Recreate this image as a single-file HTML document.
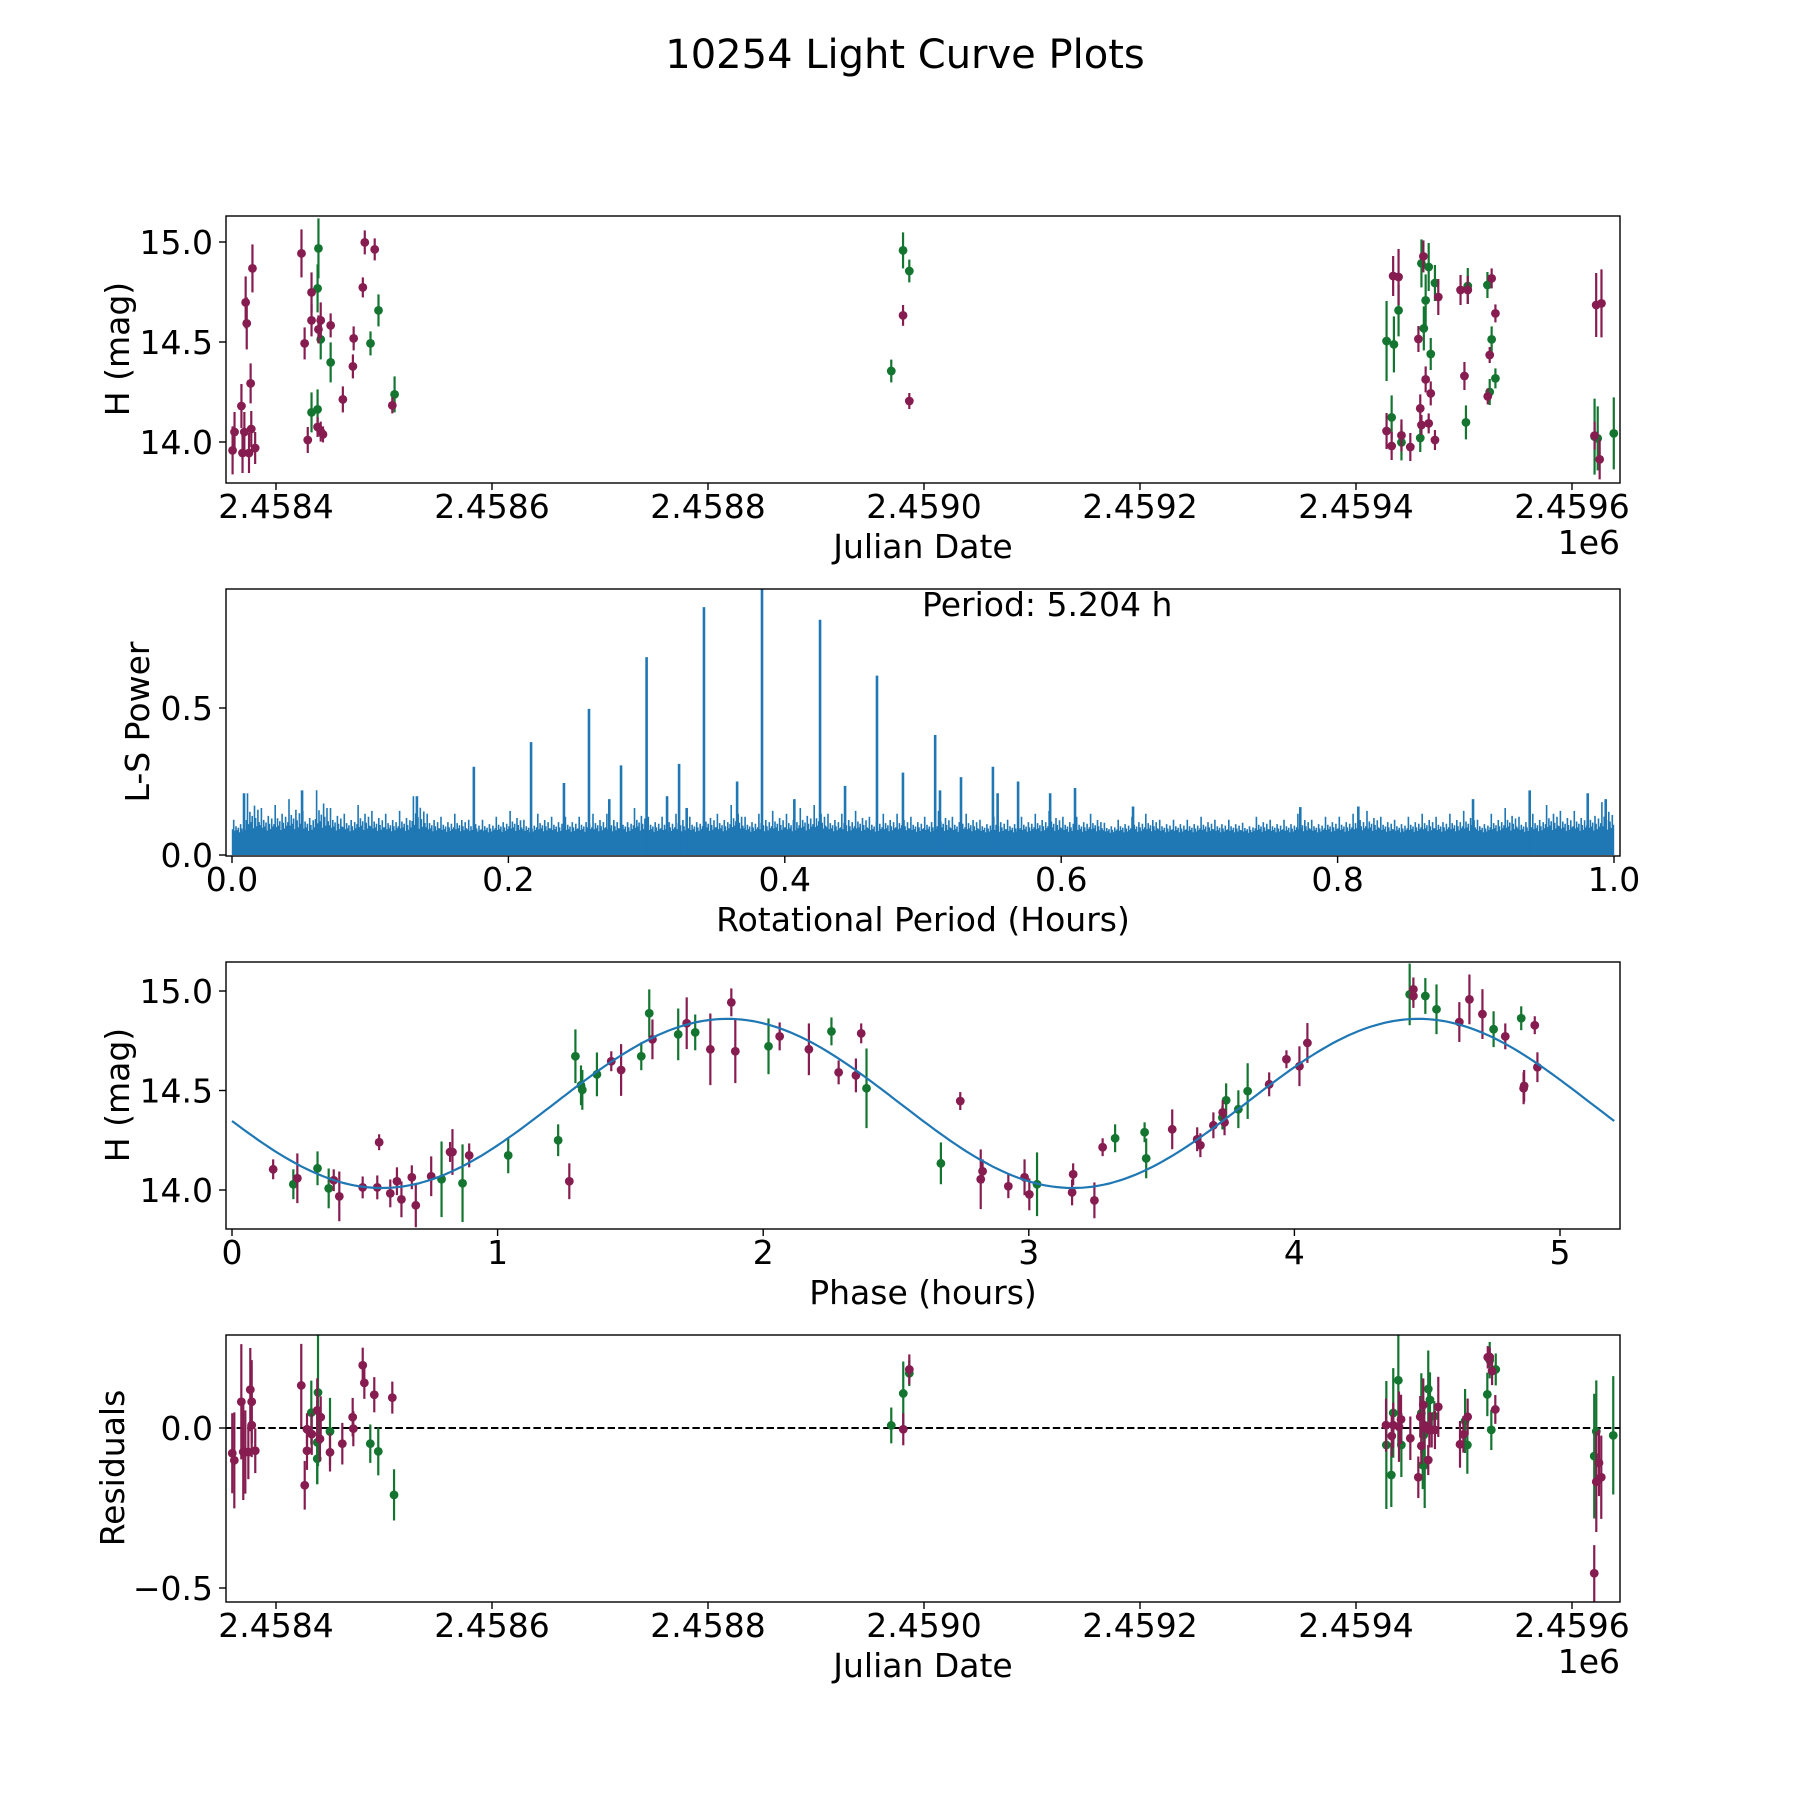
<!DOCTYPE html>
<html><head><meta charset="utf-8"><style>
html,body{margin:0;padding:0;background:#fff;}
svg text{font-family:"DejaVu Sans","Liberation Sans",sans-serif;fill:#000;}
</style></head><body>
<svg id="fig" width="1800" height="1800" viewBox="0 0 1800 1800" xmlns="http://www.w3.org/2000/svg">
<rect width="1800" height="1800" fill="#fff"/>
<text x="905" y="68" font-size="40" text-anchor="middle">10254 Light Curve Plots</text>
<defs>
<clipPath id="c1"><rect x="226" y="216" width="1394" height="267"/></clipPath>
<clipPath id="c2"><rect x="226" y="589" width="1394" height="267"/></clipPath>
<clipPath id="c3"><rect x="226" y="962" width="1394" height="267"/></clipPath>
<clipPath id="c4"><rect x="226" y="1335" width="1394" height="267"/></clipPath>
</defs>
<g id="g1" clip-path="url(#c1)"></g>
<g id="g2" clip-path="url(#c2)"></g>
<g id="g3" clip-path="url(#c3)"></g>
<g id="g4" clip-path="url(#c4)"></g>
<g id="axes"></g>
</svg>
<script>
// ---------- data ----------
// Julian dates are stored as days after JD 2458400
const lcMaroon = [[-40.2,13.958,.12],[-38.4,14.05,.1],[-32.0,14.18,.11],[-31.0,13.945,.1],[-29.3,14.05,.1],[-28.1,14.698,.13],[-27.1,14.593,.13],[-25.0,13.945,.1],[-23.5,14.293,.1],[-22.9,14.065,.09],[-21.8,14.868,.12],[-19.3,13.97,.08],
[23.6,14.943,.12],[26.5,14.493,.08],[29.4,14.01,.065],[32.9,14.748,.1],[32.9,14.608,.08],[39.3,14.563,.07],[41.4,14.608,.09],[38.5,14.075,.05],[41.4,14.052,.05],[43.5,14.038,.04],[50.6,14.583,.06],[61.9,14.213,.065],[71.2,14.378,.06],[71.9,14.518,.06],[80.4,14.773,.05],[82.2,14.998,.06],[91.4,14.963,.055],[107.7,14.183,.04],
[580.6,14.633,.052],[586.4,14.205,.04],
[1028.3,14.055,.09],[1033.0,13.98,.07],[1034.4,14.83,.1],[1039.4,14.825,.14],[1042.1,14.033,.08],[1050.3,13.975,.07],[1057.8,14.515,.065],[1059.5,14.168,.07],[1060.6,14.085,.05],[1062.4,14.928,.08],[1064.5,14.313,.065],[1067.3,14.093,.05],[1069.2,14.243,.06],[1073.1,14.01,.05],[1076.2,14.725,.09],[1096.8,14.76,.075],[1100.4,14.33,.07],[1103.5,14.76,.07],[1122.0,14.228,.04],[1123.8,14.435,.04],[1125.6,14.818,.05],[1129.1,14.643,.045],[1220.9,14.032,.07],[1222.4,14.685,.16],[1227.3,14.693,.17],[1225.6,13.913,.1]];
const lcGreen = [[32.9,14.148,.1],[38.5,14.163,.1],[39.3,14.968,.15],[38.5,14.768,.12],[41.4,14.513,.1],[50.6,14.398,.1],[87.5,14.493,.06],[94.9,14.658,.08],[109.8,14.238,.09],
[580.6,14.958,.09],[586.4,14.855,.057],[569.7,14.355,.057],
[1028.3,14.505,.2],[1035.1,14.488,.14],[1033.0,14.123,.11],[1039.4,14.658,.13],[1042.1,13.998,.09],[1059.5,14.02,.07],[1060.6,14.893,.12],[1062.8,14.568,.11],[1064.5,14.708,.13],[1067.3,14.875,.12],[1069.2,14.44,.08],[1073.1,14.795,.09],[1101.8,14.098,.085],[1103.5,14.78,.09],[1121.7,14.785,.065],[1123.8,14.25,.065],[1125.6,14.513,.065],[1129.1,14.318,.05],[1220.9,14.027,.19],[1223.8,14.018,.16],[1238.7,14.043,.18]];

const peakPeriods = [.0087,.0507,.1338,.175,.2164,.2402,.2583,.273,.2815,.300,.3148,.3235,.329,.3415,.3655,.3835,.4069,.4255,.4436,.4667,.4855,.5088,.5123,.5275,.5506,.554,.5688,.592,.610,.652,.773,.815,.898,.939,.981,.994];
const peakPowers = [.21,.22,.20,.30,.384,.245,.497,.19,.305,.673,.20,.31,.16,.843,.25,.93,.19,.80,.235,.61,.28,.408,.22,.265,.30,.21,.25,.21,.228,.165,.163,.165,.19,.22,.21,.19];
const noiseTop = [.12,.21,.16,.17,.19,.15,.22,.16,.14,.17,
.15,.14,.15,.20,.14,.13,.14,.12,.12,.13,
.15,.12,.14,.13,.13,.13,.14,.14,.13,.16,
.13,.13,.14,.13,.15,.14,.17,.13,.14,.15,
.14,.16,.17,.14,.14,.15,.13,.14,.14,.13,
.13,.15,.13,.14,.12,.13,.12,.13,.14,.15,
.13,.13,.14,.11,.12,.13,.14,.12,.12,.12,
.13,.12,.12,.11,.13,.12,.12,.14,.12,.13,
.13,.14,.15,.13,.12,.13,.14,.13,.14,.15,
.12,.14,.16,.13,.14,.17,.15,.15,.16,.18];
const noiseBase = 0.07;

const phMaroon = [[.155,14.104,.05],[.246,14.059,.125],[.383,14.049,.055],[.404,13.968,.125],[.492,14.013,.055],[.554,14.24,.04],[.547,14.013,.06],[.596,13.983,.07],[.621,14.044,.07],[.638,13.953,.09],[.677,14.064,.06],[.692,13.923,.11],[.750,14.069,.1],[.821,14.191,.05],[.830,14.191,.115],[.893,14.174,.06],[1.27,14.044,.09],[1.428,14.647,.05],[1.465,14.603,.13],[1.583,14.757,.1],[1.712,14.838,.13],[1.801,14.707,.18],[1.88,14.943,.07],[1.895,14.697,.16],[2.062,14.772,.07],[2.172,14.707,.13],[2.284,14.591,.06],[2.349,14.576,.085],[2.369,14.787,.05],
[2.742,14.447,.045],[2.819,14.054,.15],[2.826,14.094,.06],[2.923,14.019,.06],[2.984,14.064,.09],[3.002,13.978,.08],[3.167,14.079,.055],[3.163,13.988,.065],[3.247,13.948,.09],[3.278,14.215,.045],[3.54,14.305,.1],[3.634,14.255,.06],[3.646,14.225,.06],[3.695,14.325,.065],[3.73,14.39,.06],[3.737,14.34,.065],[3.905,14.531,.06],[3.97,14.657,.045],[4.019,14.622,.1],[4.049,14.739,.1],[4.448,15.008,.06],[4.448,14.975,.06],[4.621,14.844,.1],[4.659,14.958,.125],[4.708,14.884,.125],[4.794,14.772,.065],[4.905,14.828,.045],[4.863,14.511,.08],[4.865,14.523,.08],[4.915,14.617,.075]];
const phGreen = [[.231,14.029,.075],[.322,14.109,.085],[.364,14.008,.1],[.789,14.054,.19],[.868,14.034,.195],[1.04,14.174,.09],[1.228,14.25,.08],[1.293,14.672,.135],[1.314,14.526,.1],[1.319,14.503,.1],[1.374,14.581,.11],[1.541,14.672,.07],[1.571,14.888,.12],[1.68,14.782,.13],[1.744,14.792,.09],[2.02,14.722,.14],[2.257,14.797,.07],[2.389,14.511,.2],
[2.669,14.134,.105],[3.031,14.029,.16],[3.325,14.26,.07],[3.436,14.29,.05],[3.442,14.159,.1],[3.729,14.364,.06],[3.743,14.451,.085],[3.789,14.406,.095],[3.824,14.497,.14],[4.434,14.983,.155],[4.493,14.975,.09],[4.535,14.908,.125],[4.75,14.808,.09],[4.854,14.863,.06]];
const fitMean = 14.435, fitAmp = 0.425, fitPeakPhase = 1.865, rotPeriod = 5.204;

const resMaroon = [[-40.5,-0.079,.125],[-38.6,-0.101,.15],[-32.1,0.082,.18],[-30.3,-0.075,.15],[-28.4,-0.075,.13],[-23.8,0.12,.13],[-22.5,0.082,.13],[-22.5,0.009,.1],[-25.6,-0.075,.085],[-19.2,-0.071,.07],[23.4,0.133,.13],[26.6,-0.179,.076],[28.7,-0.004,.05],[28.7,-0.071,.06],[33.1,-0.019,.065],[38.2,0.055,.1],[41.4,0.034,.065],[40.7,-0.034,.07],[50,-0.076,.06],[61.4,-0.049,.065],[71,0.034,.06],[71.6,-0.002,.055],[80.3,0.196,.055],[81.8,0.141,.05],[91,0.104,.055],[107.7,0.095,.05],
[580.8,-0.004,.05],[586.4,0.183,.047],
[1027.8,0.009,.083],[1033.1,-0.025,.065],[1034.5,0.009,.07],[1039.8,0.004,.11],[1041.7,0.027,.077],[1050.3,-0.032,.068],[1057.7,-0.154,.065],[1059.5,0.035,.065],[1060.5,-0.056,.057],[1062.3,0.072,.083],[1063.2,0.009,.06],[1066.9,-0.1,.047],[1067.9,-0.006,.055],[1070.1,-0.006,.055],[1073.1,-0.006,.06],[1076.2,0.066,.094],[1096.3,-0.051,.073],[1099.4,-0.02,.057],[1103.4,0.035,.057],[1122,0.221,.035],[1123.8,0.222,.03],[1126,0.178,.044],[1129,0.058,.045],[1220.6,-0.454,.088],[1222.5,-0.168,.157],[1225,-0.109,.104],[1227.1,-0.154,.13]];
const resGreen = [[32.7,0.048,.1],[38.9,0.111,.23],[38.2,-0.045,.13],[38.2,-0.096,.08],[50,-0.011,.105],[87.3,-0.049,.06],[94.7,-0.073,.075],[109.3,-0.209,.08],
[569.7,0.008,.056],[580.8,0.108,.1],[586.4,0.171,.04],
[1028.1,-0.053,.2],[1032.7,-0.147,.1],[1034.5,0.047,.14],[1039.2,0.149,.2],[1042,-0.053,.1],[1060.5,0.046,.125],[1061.8,-0.116,.075],[1062.7,-0.022,.063],[1063.6,-0.116,.134],[1066.9,0.122,.12],[1068.5,0.088,.086],[1072.5,0.037,.047],[1101,0.022,.1],[1103.1,-0.053,.09],[1121.6,0.105,.068],[1123.8,0.212,.057],[1129.4,0.183,.05],[1125.3,-0.006,.063],[1220.6,-0.088,.195],[1222.5,-0.011,.16],[1238.2,-0.023,.185]];

const jdTickDays = [0,200,400,600,800,1000,1200];
const jdTickLabels = ["2.4584","2.4586","2.4588","2.4590","2.4592","2.4594","2.4596"];
const magTicks = [14.0,14.5,15.0];
const magTickLabels = ["14.0","14.5","15.0"];
const powTicks = [0,0.5];
const powTickLabels = ["0.0","0.5"];
const perTicks = [0,0.2,0.4,0.6,0.8,1.0];
const perTickLabels = ["0.0","0.2","0.4","0.6","0.8","1.0"];
const phTicks = [0,1,2,3,4,5];
const phTickLabels = ["0","1","2","3","4","5"];
const resTicks = [0,-0.5];
const resTickLabels = ["0.0","\u22120.5"];

// ---------- scales ----------
const NS = "http://www.w3.org/2000/svg";
const L = 226, R = 1620;
const AX = [{top:216,bot:483},{top:589,bot:856},{top:962,bot:1229},{top:1335,bot:1602}];
const xJD = d => 276 + d*1.08;
const yMag1 = m => 442 - (m-14)*200;
const xPer = p => 232 + p*1382;
const yPow = v => 855 - v*294;
const xPh = h => 232 + h*265.6;
const yMag3 = m => 1190 - (m-14)*199;
const yRes = r => 1428 - r*320;
const MAROON = "#861c50", GREEN = "#137530", BLUE = "#1f77b4";

function mk(tag, attrs, parent){ const e = document.createElementNS(NS, tag); for (const k in attrs) e.setAttribute(k, attrs[k]); parent.appendChild(e); return e; }

function errPoints(g, data, xs, ys, color, nm){
  data.forEach(p=>{
    const x = xs(p[0]);
    const ln = mk('line',{x1:x,x2:x,y1:ys(p[1]-p[2]),y2:ys(p[1]+p[2]),stroke:color,'stroke-width':2.2},g);
    
    
    const c = mk('circle',{cx:x,cy:ys(p[1]),r:4.4,fill:color},g);
    
    
  });
}

const g1 = document.getElementById('g1'), g2 = document.getElementById('g2'), g3 = document.getElementById('g3'), g4 = document.getElementById('g4');
errPoints(g1, lcGreen, xJD, yMag1, GREEN, 'green-observation');
errPoints(g1, lcMaroon, xJD, yMag1, MAROON, 'maroon-observation');

// periodogram
const base = mk('rect',{x:xPer(0),y:yPow(noiseBase),width:xPer(1)-xPer(0),height:yPow(0)-yPow(noiseBase),fill:BLUE},g2);


let d = "";
const sub = [0.35,1,0.25,0.55,0.3,0.45,0.15,0.7,0.4,0.2,0.6,0.3];
noiseTop.forEach((v,i)=>{
  sub.forEach((f,k)=>{
    const p = i*0.01 + (k+0.5)*0.01/sub.length;
    d += `M${xPer(p).toFixed(1)},${yPow(0)}L${xPer(p).toFixed(1)},${yPow(noiseBase + (v-noiseBase)*f).toFixed(1)}`;
  });
});
const nz = mk('path',{d:d,stroke:BLUE,'stroke-width':1.6,fill:'none'},g2);


peakPeriods.forEach((p,i)=>{
  const ln = mk('line',{x1:xPer(p),x2:xPer(p),y1:yPow(0),y2:yPow(peakPowers[i]),stroke:BLUE,'stroke-width':2.6},g2);
  
  
});

// phase plot
errPoints(g3, phGreen, xPh, yMag3, GREEN, 'green-phase-point');
errPoints(g3, phMaroon, xPh, yMag3, MAROON, 'maroon-phase-point');
let cd = "";
for (let i=0;i<=260;i++){ const h = rotPeriod*i/260; const m = fitMean + fitAmp*Math.cos(2*Math.PI*(h-fitPeakPhase)/(rotPeriod/2)); cd += (i?'L':'M')+xPh(h).toFixed(1)+','+yMag3(m).toFixed(1); }
const fit = mk('path',{d:cd,stroke:BLUE,'stroke-width':2.2,fill:'none'},g3);



// residuals
const zl = mk('line',{x1:L,x2:R,y1:yRes(0),y2:yRes(0),stroke:'#000','stroke-width':2,'stroke-dasharray':'7.4,3.2'},g4);


errPoints(g4, resGreen, xJD, yRes, GREEN, 'green-residual');
errPoints(g4, resMaroon, xJD, yRes, MAROON, 'maroon-residual');

// ---------- axes ----------
const ax = document.getElementById('axes');
function txt(x,y,s,size,anchor,nm,rot){
  const t = mk('text',{x:x,y:y,'font-size':size,'text-anchor':anchor},ax);
  if (rot) t.setAttribute('transform',`rotate(-90 ${x} ${y})`);
  t.textContent = s;
  
  
  return t;
}
function frame(i, nm){
  const a = AX[i];
  const r = mk('rect',{x:L,y:a.top,width:R-L,height:a.bot-a.top,fill:'none',stroke:'#000','stroke-width':1.4},ax);
  
  
}
function xTicks(i, vals, labels, xs, nm){
  const a = AX[i];
  vals.forEach((v,k)=>{
    const x = xs(v);
    const t = mk('line',{x1:x,x2:x,y1:a.bot,y2:a.bot+7,stroke:'#000','stroke-width':1.4},ax);
    
    
    txt(x, a.bot+35, labels[k], 33, 'middle', nm+'-x-tick-label');
  });
}
function yTicks(i, vals, labels, ys, nm){
  vals.forEach((v,k)=>{
    const y = ys(v);
    const t = mk('line',{x1:L-7,x2:L,y1:y,y2:y,stroke:'#000','stroke-width':1.4},ax);
    
    
    txt(L-13, y+12, labels[k], 33, 'end', nm+'-y-tick-label');
  });
}
frame(0,'julian-date-plot'); xTicks(0, jdTickDays, jdTickLabels, xJD, 'julian-date-plot'); yTicks(0, magTicks, magTickLabels, yMag1, 'julian-date-plot');
txt(923, 558, 'Julian Date', 33, 'middle', 'julian-date-x-axis-title');
txt(1620, 554, '1e6', 33, 'end', 'julian-date-offset-label');
txt(129, 349, 'H (mag)', 33, 'middle', 'magnitude-y-axis-title', true);

frame(1,'periodogram-plot'); xTicks(1, perTicks, perTickLabels, xPer, 'periodogram-plot'); yTicks(1, powTicks, powTickLabels, yPow, 'periodogram-plot');
txt(923, 931, 'Rotational Period (Hours)', 33, 'middle', 'period-x-axis-title');
txt(149, 722, 'L-S Power', 33, 'middle', 'power-y-axis-title', true);
txt(922, 616, 'Period: 5.204 h', 33, 'start', 'best-period-annotation');

frame(2,'phase-plot'); xTicks(2, phTicks, phTickLabels, xPh, 'phase-plot'); yTicks(2, magTicks, magTickLabels, yMag3, 'phase-plot');
txt(923, 1304, 'Phase (hours)', 33, 'middle', 'phase-x-axis-title');
txt(129, 1095, 'H (mag)', 33, 'middle', 'phase-magnitude-y-axis-title', true);

frame(3,'residuals-plot'); xTicks(3, jdTickDays, jdTickLabels, xJD, 'residuals-plot'); yTicks(3, resTicks, resTickLabels, yRes, 'residuals-plot');
txt(923, 1677, 'Julian Date', 33, 'middle', 'residuals-x-axis-title');
txt(1620, 1673, '1e6', 33, 'end', 'residuals-offset-label');
txt(124, 1468, 'Residuals', 33, 'middle', 'residuals-y-axis-title', true);
</script>
</body></html>
